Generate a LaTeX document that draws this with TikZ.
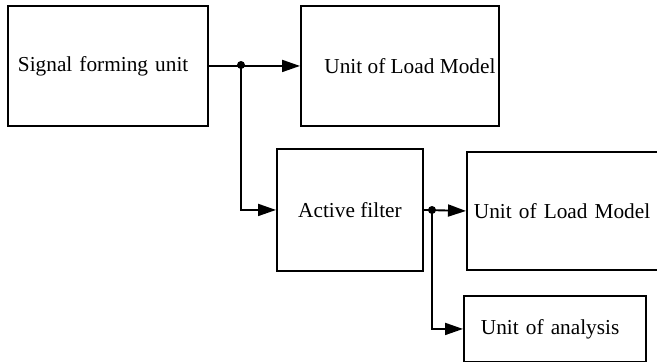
\documentclass[tikz,border=0pt]{standalone}
\usepackage{fontspec}
\setmainfont{Liberation Serif}
\usetikzlibrary{arrows.meta}
\begin{document}
\begin{tikzpicture}[x=1pt,y=-1pt,
  box/.style={draw, line width=1.9pt, inner sep=0pt, anchor=north west,
    font=\fontsize{21.3}{26}\selectfont},
  conn/.style={line width=1.9pt, -{Triangle[length=18pt,width=12pt]}},
  junction/.style={circle, fill, inner sep=0pt, minimum size=8pt}]
\useasboundingbox (0,0) rectangle (657,362);
\clip (0,0) rectangle (657,362);
\node[box, minimum height=120pt, text width=180pt, inner xsep=10pt, align=left] (sig) at (7,5) {Signal forming unit};
\node[box, minimum width=198pt, minimum height=120pt] (load1) at (300,5) {\hspace*{20pt}Unit of Load Model};
\node[box, minimum width=146pt, minimum height=122pt] (filt) at (276,148) {Active filter};
\node[box, minimum height=118pt, text width=196pt, inner xsep=7pt, align=left] (load2) at (466,151) {Unit of Load Model};
\node[box, minimum height=66pt, text width=148pt, inner xsep=17pt, align=left] (anal) at (463,295) {Unit of analysis};
\coordinate (j1) at (241,65);
\coordinate (j2) at (432,210);
\draw[conn] (sig.east) -- (load1.west);
\draw[conn] (j1) |- (filt.west);
\draw[conn] (filt.east) -- (load2.west);
\draw[conn] (j2) |- (anal.west);
\node[junction] (d1) at (j1) {};
\node[junction] (d2) at (j2) {};
\end{tikzpicture}
\end{document}
